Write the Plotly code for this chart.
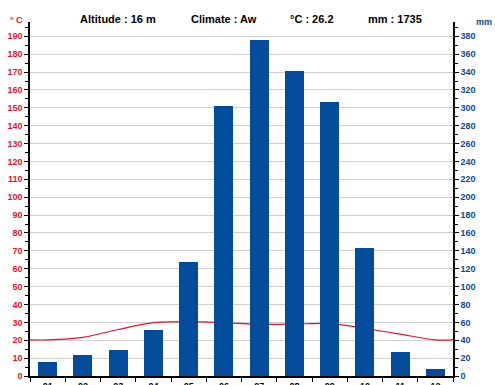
import plotly.graph_objects as go

months = ["01", "02", "03", "04", "05", "06", "07", "08", "09", "10", "11", "12"]
precip_mm = [16, 23, 29, 52, 127, 302, 376, 341, 307, 143, 27, 8]
temp_c = [20.2, 21.6, 26.0, 29.8, 30.4, 29.8, 28.9, 29.0, 29.4, 26.6, 23.4, 20.2]
header = ["Altitude : 16 m", "Climate : Aw", "°C : 26.2", "mm : 1735"]
header_x = [118, 224, 312, 395]

xs = list(range(1, 13))
line_x = [0.5] + xs + [12.5]
line_y = [temp_c[0]] + temp_c + [temp_c[-1]]

FONT = "Liberation Sans, Arial, sans-serif"
RED = "#e3132d"
BLUE = "#0d4a97"

W, H = 495, 385
ML, MR, MT, MB = 30, 42, 22, 9
pw = W - ML - MR
ph = H - MT - MB


def px(x):
    return (x - ML) / pw


def py(y):
    return (H - MB - y) / ph


fig = go.Figure()
fig.add_trace(go.Bar(x=xs, y=precip_mm, yaxis="y2", marker=dict(color="#034b9b", line=dict(width=0)),
                     width=0.54, showlegend=False))
fig.add_trace(go.Scatter(x=line_x, y=line_y, mode="lines", yaxis="y",
                         line=dict(color=RED, width=1.2, shape="spline", smoothing=0.8), showlegend=False))

fig.update_layout(
    width=W, height=H,
    margin=dict(l=ML, r=MR, t=MT, b=MB, autoexpand=False),
    paper_bgcolor="white", plot_bgcolor="white",
    font=dict(family=FONT, size=9),
    xaxis=dict(range=[0.5, 12.5], tickvals=xs, ticktext=months, ticks="", automargin=False,
               showline=True, linecolor="black", linewidth=1.5, showgrid=False, zeroline=False,
               tickfont=dict(family=FONT, size=9, color="black", weight="bold"),
               minor=dict(tickmode="linear", tick0=0.5, dtick=1, ticks="outside", ticklen=4,
                          tickcolor="black", tickwidth=1, showgrid=False)),
    yaxis=dict(range=[0, 198], tick0=0, dtick=10, ticks="outside", ticklen=4, tickcolor="black",
               automargin=False,
               showline=True, linecolor="black", linewidth=1.5, showgrid=True, gridcolor="#cfcfcf",
               gridwidth=1, zeroline=False,
               tickfont=dict(family=FONT, size=9, color=RED, weight="bold"),
               minor=dict(dtick=5, ticks="outside", ticklen=3, tickcolor="black", showgrid=False)),
    yaxis2=dict(range=[0, 396], tick0=0, dtick=20, overlaying="y", side="right", ticks="outside",
                automargin=False,
                ticklen=4, tickcolor="black", showline=True, linecolor="black", linewidth=1.5,
                showgrid=False, zeroline=False,
                tickfont=dict(family=FONT, size=9, color=BLUE, weight="bold"),
                minor=dict(dtick=10, ticks="outside", ticklen=3, tickcolor="black", showgrid=False)),
    bargap=0,
)

for t, x in zip(header, header_x):
    fig.add_annotation(text=t, x=px(x), y=py(19), xref="paper", yref="paper", showarrow=False,
                       xanchor="center", yanchor="middle",
                       font=dict(family=FONT, size=11, color="black", weight="bold"))
fig.add_annotation(text="° C", x=px(16), y=py(20), xref="paper", yref="paper", showarrow=False,
                   xanchor="center", yanchor="middle",
                   font=dict(family=FONT, size=9, color=RED, weight="bold"))
fig.add_annotation(text="mm", x=px(484), y=py(22), xref="paper", yref="paper", showarrow=False,
                   xanchor="center", yanchor="middle",
                   font=dict(family=FONT, size=9, color=BLUE, weight="bold"))

fig.write_html("out.html", config={"displayModeBar": False},
               post_script="document.body.style.margin='0';document.body.style.overflow='hidden';")
